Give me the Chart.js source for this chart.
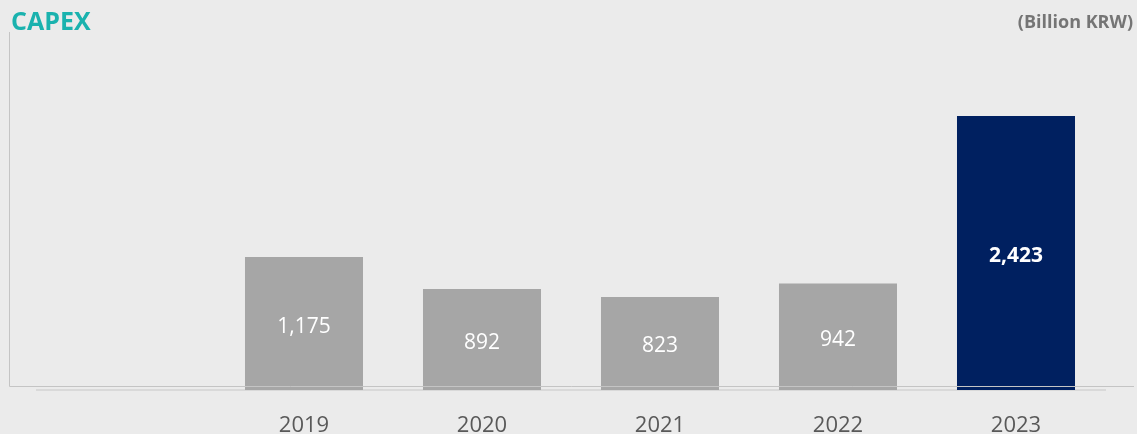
<!DOCTYPE html>
<html>
<head>
<meta charset="utf-8">
<script src="https://cdn.jsdelivr.net/npm/chart.js@4"></script>
<style>
  html, body { margin: 0; padding: 0; background: #ebebeb; }
  #wrap { position: relative; width: 1137px; height: 434px; }
</style>
</head>
<body>
<div id="wrap"><canvas id="capexChart"></canvas></div>
<script>
const years = ['', '2019', '2020', '2021', '2022', '2023'];
const capex = [null, 1175, 892, 823, 942, 2423];
const barColors = ['#a6a6a6', '#a6a6a6', '#a6a6a6', '#a6a6a6', '#a6a6a6', '#002060'];
const labelBold = [false, false, false, false, false, true];

const fontFamily = '"Open Sans", "Noto Sans", sans-serif';

// titles, L-shaped frame and the value labels inside the bars
const decorPlugin = {
  id: 'decor',
  afterDatasetsDraw(chart) {
    const ctx = chart.ctx;
    ctx.save();

    ctx.strokeStyle = '#c4c4c4';
    ctx.lineWidth = 1;
    ctx.beginPath();
    ctx.moveTo(9.5, 32);
    ctx.lineTo(9.5, 386.5);
    ctx.lineTo(1134, 386.5);
    ctx.stroke();

    const meta = chart.getDatasetMeta(0);
    meta.data.forEach((bar, i) => {
      const v = capex[i];
      if (v == null) return;
      ctx.font = (labelBold[i] ? 'bold ' : '') + '21px ' + fontFamily;
      ctx.fillStyle = '#ffffff';
      ctx.textAlign = 'center';
      ctx.textBaseline = 'middle';
      ctx.fillText(v.toLocaleString('en-US'), bar.x, (bar.y + bar.base) / 2 + 3);
    });

    ctx.textBaseline = 'alphabetic';
    ctx.textAlign = 'left';
    ctx.font = 'bold 25px ' + fontFamily;
    ctx.fillStyle = '#1ab2ae';
    ctx.fillText('CAPEX', 11, 30);

    ctx.textAlign = 'right';
    ctx.font = 'bold 18px ' + fontFamily;
    ctx.fillStyle = '#757575';
    ctx.fillText('(Billion KRW)', 1133, 28);

    ctx.restore();
  }
};

new Chart(document.getElementById('capexChart'), {
  type: 'bar',
  data: {
    labels: years,
    datasets: [{
      data: capex,
      backgroundColor: barColors,
      borderWidth: 0,
      categoryPercentage: 1,
      barPercentage: 0.663
    }]
  },
  options: {
    responsive: true,
    maintainAspectRatio: false,
    animation: false,
    layout: { padding: { top: 28, left: 37, right: 32, bottom: 0 } },
    plugins: {
      legend: { display: false },
      tooltip: { enabled: false }
    },
    scales: {
      x: {
        grid: { display: false, drawTicks: false },
        border: { display: true, color: '#d9d9d9', width: 2 },
        ticks: {
          color: '#595959',
          font: { family: fontFamily, size: 22 },
          padding: 23
        },
        afterFit(scale) { scale.height = 44; }
      },
      y: {
        display: false,
        min: 0,
        max: 3200
      }
    }
  },
  plugins: [decorPlugin]
});
</script>
</body>
</html>
